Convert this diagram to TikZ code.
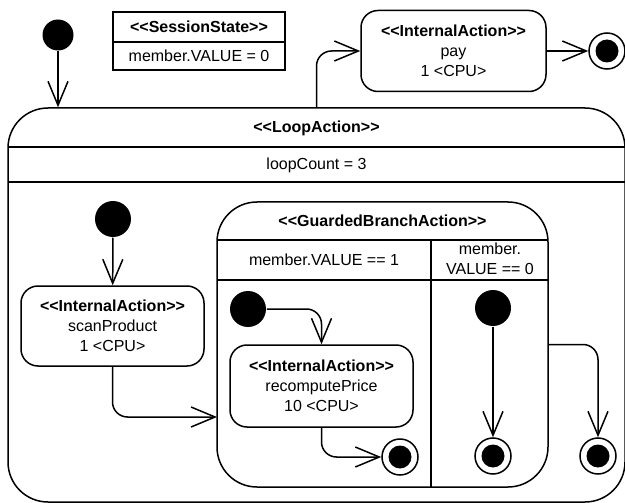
\documentclass[tikz,border=0pt]{standalone}
\usepackage{fontspec}
\setmainfont{Liberation Sans}[Ligatures=TeXOff]
\usetikzlibrary{arrows.meta}

\begin{document}
\begin{tikzpicture}
	[x=1pt,y=-1pt,line width=1.5pt,
	every node/.style={font=\fontsize{16}{20}\selectfont, inner sep=0pt},
	action/.style={draw, rounded corners=17pt, align=center},
	start/.style={circle, fill=black, minimum size=36pt},
	final/.style={circle, draw, fill=white, minimum size=36pt,
		label={[circle, fill=black, minimum size=23pt, inner sep=0pt]center:}},
	flow/.style={-{Straight Barb[length=24pt,width=20pt]}, rounded corners=15pt}]
	\useasboundingbox (0,0) rectangle (625,503);

	% outer loop
	\node[draw, rounded corners=40pt, minimum width=617pt, minimum height=394pt] (loop) at (316.5,305) {};
	\draw (8,147) -- (625,147);
	\draw (8,182) -- (625,182);
	\node (looptitle) at (316.5,128) {\textbf{<<LoopAction>>}};
	\node (loopcount) at (316.5,165) {loopCount = 3};

	\node[draw, minimum width=172pt, minimum height=58pt] (state) at (199,41) {};
	\draw (113,42) -- (285,42);
	\node (statetitle) at (199,27) {\textbf{<<SessionState>>}};
	\node (stateval) at (199,56) {member.VALUE = 0};

	\node[start, minimum size=31pt] (s0) at (58,35) {};
	\node[action, minimum width=185pt, minimum height=81pt] (pay) at (453.5,51)
		{\textbf{<<InternalAction>>}\\pay\\1 <CPU>};
	\node[final] (f0) at (607,51) {};

	% inside the loop
	\node[start] (s1) at (113,219) {};
	\node[action, minimum width=183pt, minimum height=80pt] (scan) at (112.5,326)
		{\textbf{<<InternalAction>>}\\scanProduct\\1 <CPU>};

	% guarded branch
	\node[draw, rounded corners=40pt, minimum width=331pt, minimum height=285pt] (guard) at (382.5,344.5) {};
	\draw (217,240) -- (548,240);
	\draw (217,280) -- (548,280);
	\draw (431,240) -- (431,487);
	\node (guardtitle) at (382.5,221) {\textbf{<<GuardedBranchAction>>}};
	\node (cond1) at (324,260) {member.VALUE == 1};
	\node[align=center] (cond0) at (490,259) {member.\\VALUE == 0};
	\coordinate (gin) at (217,417);

	\node[start] (s2) at (248,309) {};
	\node[action, minimum width=183pt, minimum height=82pt] (recomp) at (321.5,386)
		{\textbf{<<InternalAction>>}\\recomputePrice\\10 <CPU>};
	\node[final] (f1) at (400,457) {};
	\node[start] (s3) at (493,308) {};
	\node[final] (f2) at (493,456) {};
	\node[final] (f3) at (598,456) {};

	\draw[flow] (s0) -- (s0 |- loop.north);
	\draw[flow] (loop.north) |- (pay.west);
	\draw[flow] (scan.south) |- (gin);
	\draw[flow] (s2) -| (recomp.north);
	\draw[flow] (recomp.south) |- (f1);
	\draw[flow] (guard.east) -| (f3);
	\foreach \from/\to in {pay/f0,s1/scan,s3/f2}
		\draw[flow] (\from) -- (\to);
\end{tikzpicture}
\end{document}
